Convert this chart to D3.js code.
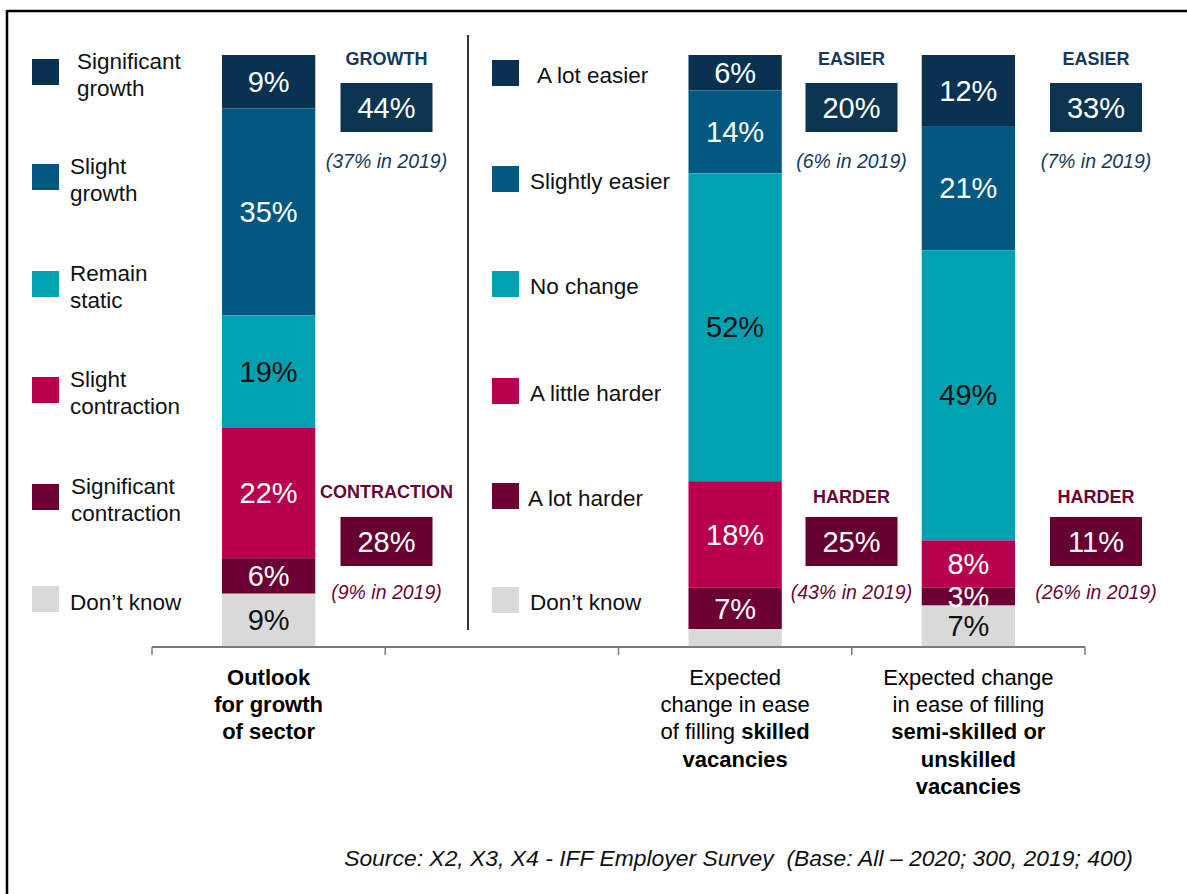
<!DOCTYPE html>
<html><head><meta charset="utf-8">
<script src="https://cdn.jsdelivr.net/npm/d3@7"></script>
<style>body{margin:0;background:#fff}svg{display:block;font-family:"Liberation Sans",Arial,sans-serif}</style>
</head><body>
<svg id="c" width="1187" height="894"></svg>
<script>
// ---- data ----
const categories = ["outlook", "blank", "skilled", "semi"];
const leftSeries = ["Significant growth", "Slight growth", "Remain static", "Slight contraction", "Significant contraction", "Don’t know"];
const rightSeries = ["A lot easier", "Slightly easier", "No change", "A little harder", "A lot harder", "Don’t know"];
const outlookValues = [9, 35, 19, 22, 6, 9];
const skilledValues = [6, 14, 52, 18, 7, 3];
const semiValues = [12, 21, 49, 8, 3, 7];
const outlookLabels = ["9%", "35%", "19%", "22%", "6%", "9%"];
const skilledLabels = ["6%", "14%", "52%", "18%", "7%", ""];
const semiLabels = ["12%", "21%", "49%", "8%", "3%", "7%"];
const topHeads = ["GROWTH", "EASIER", "EASIER"];
const topValues = [44, 20, 33];
const topPrev = [37, 6, 7];
const bottomHeads = ["CONTRACTION", "HARDER", "HARDER"];
const bottomValues = [28, 25, 11];
const bottomPrev = [9, 43, 26];
const categoryLines = [
  [[["Outlook", true]], [["for growth", true]], [["of sector", true]]],
  [],
  [[["Expected", false]], [["change in ease", false]], [["of filling ", false], ["skilled", true]], [["vacancies", true]]],
  [[["Expected change", false]], [["in ease of filling", false]], [["semi-skilled or", true]], [["unskilled", true]], [["vacancies", true]]]
];
const sourceText = "Source: X2, X3, X4 - IFF Employer Survey  (Base: All – 2020; 300, 2019; 400)";

const colors = ["#08324f", "#025880", "#00a1b0", "#b8004e", "#6c0034", "#d9d9d9"];
const labelColors = ["#fff", "#fff", "#111", "#fff", "#fff", "#111"];
const posColor = "#0c3552", negColor = "#660031";
const posText = "#14395a", negText = "#6a0536";

const svg = d3.select("#c");

// frame
svg.append("line").attr("x1", 7).attr("x2", 1187).attr("y1", 11).attr("y2", 11).attr("stroke", "#000").attr("stroke-width", 2.5);
svg.append("line").attr("x1", 7).attr("x2", 7).attr("y1", 10).attr("y2", 894).attr("stroke", "#000").attr("stroke-width", 2.5);

// scales
const x = d3.scaleBand().domain(categories).range([152, 1085]).paddingInner(0).paddingOuter(0);
const y = d3.scaleLinear().domain([0, 100]).range([647, 55]);
const barW = x.bandwidth() * 0.4;

// divider
svg.append("line").attr("x1", 468).attr("x2", 468).attr("y1", 35).attr("y2", 630).attr("stroke", "#333").attr("stroke-width", 2);

// bars
const barsData = [
  {cat: "outlook", vals: outlookValues, labels: outlookLabels},
  {cat: "skilled", vals: skilledValues, labels: skilledLabels},
  {cat: "semi", vals: semiValues, labels: semiLabels}
];
barsData.forEach(b => {
  const cx = x(b.cat) + x.bandwidth() / 2;
  let cum = 100;
  const segs = b.vals.map((v, i) => { const s = {top: cum, bot: cum - v, v, i, label: b.labels[i]}; cum -= v; return s; });
  const g = svg.append("g");
  g.selectAll("rect").data(segs).join("rect")
    .attr("x", cx - barW / 2).attr("width", barW)
    .attr("y", d => y(d.top)).attr("height", d => y(d.bot) - y(d.top))
    .attr("fill", d => colors[d.i]);
  g.selectAll("text").data(segs.filter(d => d.label)).join("text")
    .attr("x", cx).attr("y", d => (y(d.top) + y(d.bot)) / 2)
    .attr("text-anchor", "middle").attr("dominant-baseline", "central")
    .attr("font-size", 29).attr("fill", d => labelColors[d.i]).text(d => d.label);
});

// axis
const axisY = 647;
svg.append("line").attr("x1", x.range()[0]).attr("x2", x.range()[1]).attr("y1", axisY).attr("y2", axisY).attr("stroke", "#7a7a7a").attr("stroke-width", 2);
const tickXs = categories.map(c => x(c)).concat([x.range()[1]]);
svg.selectAll(".tk").data(tickXs).join("line").attr("class", "tk")
  .attr("x1", d => d).attr("x2", d => d).attr("y1", axisY).attr("y2", axisY + 8)
  .attr("stroke", "#7a7a7a").attr("stroke-width", 1.5);

// category labels
categories.forEach((c, ci) => {
  const cx = x(c) + x.bandwidth() / 2;
  categoryLines[ci].forEach((line, li) => {
    const t = svg.append("text").attr("x", cx).attr("y", 677 + li * 27.2).attr("text-anchor", "middle")
      .attr("dominant-baseline", "central").attr("font-size", 22).attr("fill", "#000");
    line.forEach(([s, bold]) => t.append("tspan").attr("font-weight", bold ? "bold" : "normal").text(s));
  });
});

// legends
function legend(items, sx, tx, ys) {
  items.forEach((name, i) => {
    svg.append("rect").attr("x", sx).attr("y", ys[i] - 13).attr("width", 27).attr("height", 26).attr("fill", colors[i]);
    const words = name.split(" ");
    const lines = (tx.wrap[i] && words.length > 1) ? [words[0], words.slice(1).join(" ")] : [name];
    lines.forEach((l, li) => {
      svg.append("text").attr("x", tx.x[i]).attr("y", ys[i] + tx.dy + (li - (lines.length - 1) / 2) * 27)
        .attr("dominant-baseline", "central").attr("font-size", 22.5).attr("fill", "#111").text(l);
    });
  });
}
legend(leftSeries, 32, {wrap: [1, 1, 1, 1, 1, 0], x: [77, 70, 70, 70, 71, 70], dy: 3}, [72, 177, 284, 390, 497, 599]);
legend(rightSeries, 492, {wrap: [0, 0, 0, 0, 0, 0], x: [537, 530, 530, 530, 528, 530], dy: 2}, [73, 179, 284, 391, 496, 600]);

// summary boxes
const boxCx = [386.5, 851.5, 1096];
function summary(heads, vals, prev, headY, boxY, prevY, fill, tcol) {
  heads.forEach((h, i) => {
    const cx = boxCx[i];
    svg.append("text").attr("x", cx).attr("y", headY[i]).attr("text-anchor", "middle").attr("dominant-baseline", "central")
      .attr("font-size", 18).attr("font-weight", "bold").attr("fill", tcol).text(h);
    svg.append("rect").attr("x", cx - 46).attr("y", boxY).attr("width", 92).attr("height", 49).attr("fill", fill);
    svg.append("text").attr("x", cx).attr("y", boxY + 25).attr("text-anchor", "middle").attr("dominant-baseline", "central")
      .attr("font-size", 29).attr("fill", "#fff").text(vals[i] + "%");
    svg.append("text").attr("x", cx).attr("y", prevY).attr("text-anchor", "middle").attr("dominant-baseline", "central")
      .attr("font-size", 19.5).attr("font-style", "italic").attr("fill", tcol).text("(" + prev[i] + "% in 2019)");
  });
}
summary(topHeads, topValues, topPrev, [59, 59, 59], 83, 161, posColor, posText);
summary(bottomHeads, bottomValues, bottomPrev, [492, 497, 497], 517, 592, negColor, negText);

// source
svg.append("text").attr("x", 1133).attr("y", 858).attr("text-anchor", "end").attr("dominant-baseline", "central")
  .attr("xml:space", "preserve").style("white-space", "pre")
  .attr("font-size", 22.9).attr("font-style", "italic").attr("fill", "#111").text(sourceText);
</script>
</body></html>
